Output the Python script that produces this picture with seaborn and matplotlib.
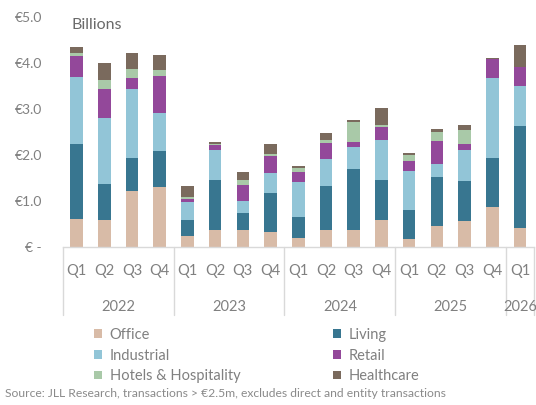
import matplotlib
matplotlib.use("Agg")
import matplotlib.pyplot as plt
import matplotlib.transforms as mtransforms
from matplotlib.patches import Patch
import numpy as np
import pandas as pd
import seaborn as sns

# Quarterly investment volumes by sector (EUR billions)
quarters = ["Q1", "Q2", "Q3", "Q4"] * 4 + ["Q1"]
years = ["2022", "2023", "2024", "2025", "2026"]
sectors = ["Office", "Living", "Industrial", "Retail", "Hotels & Hospitality", "Healthcare"]

office     = [0.60, 0.59, 1.21, 1.31, 0.25, 0.38, 0.38, 0.33, 0.20, 0.36, 0.36, 0.58, 0.17, 0.45, 0.56, 0.87, 0.41]
living     = [1.64, 0.78, 0.73, 0.78, 0.33, 1.07, 0.36, 0.85, 0.46, 0.96, 1.34, 0.87, 0.63, 1.07, 0.87, 1.07, 2.23]
industrial = [1.46, 1.43, 1.49, 0.82, 0.40, 0.65, 0.26, 0.43, 0.75, 0.60, 0.47, 0.87, 0.85, 0.29, 0.69, 1.73, 0.85]
retail     = [0.45, 0.63, 0.24, 0.81, 0.06, 0.11, 0.34, 0.36, 0.23, 0.35, 0.11, 0.29, 0.22, 0.49, 0.13, 0.41, 0.42]
hotels     = [0.07, 0.20, 0.19, 0.13, 0.04, 0.02, 0.11, 0.06, 0.07, 0.05, 0.43, 0.05, 0.13, 0.19, 0.29, 0.00, 0.00]
healthcare = [0.12, 0.38, 0.35, 0.32, 0.25, 0.05, 0.18, 0.22, 0.06, 0.15, 0.05, 0.36, 0.05, 0.07, 0.11, 0.02, 0.49]

colors = {
    "Office": "#d8bba7",
    "Living": "#387690",
    "Industrial": "#92c5d7",
    "Retail": "#93489a",
    "Hotels & Hospitality": "#a9c9a8",
    "Healthcare": "#7a6a5d",
}

series = [office, living, industrial, retail, hotels, healthcare]
period = [f"{y}-{q}" for y, qs in zip(years, [4, 4, 4, 4, 1]) for q in range(1, qs + 1)]
df = pd.DataFrame(dict(zip(sectors, series)), index=period)
cum = df.cumsum(axis=1)

sns.set_theme(style="white")
plt.rcParams["font.family"] = ["Lato", "DejaVu Sans"]

fig = plt.figure(figsize=(5.36, 4.05), dpi=100)
ax = fig.add_axes([0.117, 0.390, 0.879, 0.568])

text_grey = "#808080"
line_grey = "#d9d9d9"

# Stacked bars: draw cumulative totals from the top sector down
for name in reversed(sectors):
    sub = pd.DataFrame({"period": period, "total": cum[name].values})
    sns.barplot(data=sub, x="period", y="total", order=period, color=colors[name],
                saturation=1, width=0.45, linewidth=0, ax=ax)

ax.set_xlim(-0.5, len(period) - 0.5)
ax.set_ylim(0, 5)
ax.set_xlabel("")
ax.set_ylabel("")

yt = [0, 1, 2, 3, 4, 5]
ax.set_yticks(yt)
ax.set_yticklabels(["€ -"] + [f"€{v:.1f}" for v in yt[1:]])
ax.set_xticks(range(len(period)))
ax.set_xticklabels(quarters)
ax.tick_params(axis="both", length=0, colors=text_grey, labelsize=10.5)
ax.tick_params(axis="y", pad=15, labelsize=10)
ax.tick_params(axis="x", pad=12)

for side in ["top", "right", "left"]:
    ax.spines[side].set_visible(False)
ax.spines["bottom"].set_color(line_grey)
ax.spines["bottom"].set_linewidth(1)

# Year grouping below the quarter labels
trans = mtransforms.blended_transform_factory(ax.transData, ax.transAxes)
group_sizes = [4, 4, 4, 4, 1]
start = -0.5
for yr, n in zip(years, group_sizes):
    ax.plot([start, start], [0, -0.296], transform=trans, color=line_grey,
            lw=1, clip_on=False)
    ax.text(start + n / 2, -0.262, yr, transform=trans, ha="center", va="center",
            color=text_grey, fontsize=10.5)
    start += n
ax.plot([start, start], [0, -0.296], transform=trans, color=line_grey, lw=1, clip_on=False)

ax.text(0.134, 0.938, "Billions", transform=fig.transFigure, ha="left", va="center",
        color="#6a6a6a", fontsize=11.5)

# Legend in two columns
handles = {s: Patch(facecolor=colors[s], edgecolor="none") for s in sectors}
left_items = ["Office", "Industrial", "Hotels & Hospitality"]
right_items = ["Living", "Retail", "Healthcare"]
for items, x0 in [(left_items, 0.175), (right_items, 0.621)]:
    fig.legend([handles[s] for s in items], items, loc="upper left",
               bbox_to_anchor=(x0, 0.19), bbox_transform=fig.transFigure,
               frameon=False, fontsize=10.5, handlelength=0.55, handleheight=0.55,
               handletextpad=0.55, labelspacing=0.45, borderaxespad=0, borderpad=0,
               labelcolor=text_grey)

fig.text(0.009, 0.028, "Source: JLL Research, transactions > €2.5m, excludes direct and entity transactions",
         ha="left", va="center", color="#8a8a8a", fontsize=8.7)

fig.savefig("out.png", dpi=100)
